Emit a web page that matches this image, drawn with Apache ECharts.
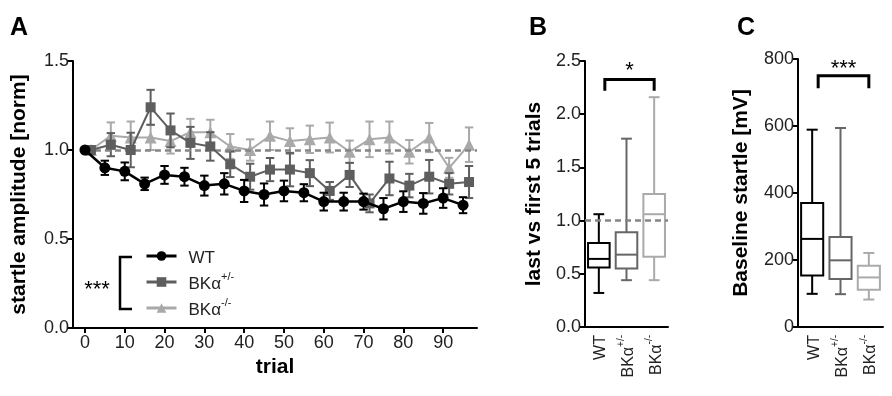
<!DOCTYPE html>
<html><head><meta charset="utf-8">
<script src="https://cdn.jsdelivr.net/npm/echarts@6/dist/echarts.min.js"></script>
<style>html,body{margin:0;padding:0;background:#fff}#c{width:892px;height:396px}</style>
</head><body><div id="c"></div>
<script>
// ---------- Panel A data ----------
const trialsWT = [0,5,10,15,20,25,30,35,40,45,50,55,60,65,70,75,80,85,90,95];
const trialsBK = [1.5,6.5,11.5,16.5,21.5,26.5,31.5,36.5,41.5,46.5,51.5,56.5,61.5,66.5,71.5,76.5,81.5,86.5,91.5,96.5];
const xTickValues = [0,10,20,30,40,50,60,70,80,90];
const wtMean = [1.00,0.90,0.88,0.81,0.86,0.85,0.80,0.81,0.77,0.75,0.77,0.76,0.71,0.71,0.71,0.67,0.71,0.70,0.73,0.69];
const wtSem  = [0,0.04,0.05,0.035,0.05,0.05,0.056,0.06,0.062,0.062,0.058,0.048,0.05,0.05,0.045,0.06,0.058,0.058,0.055,0.045];
const hetMean = [1.00,1.03,1.00,1.24,1.11,1.04,1.02,0.92,0.85,0.89,0.89,0.87,0.77,0.86,0.70,0.84,0.80,0.85,0.81,0.82];
const hetSem  = [0,0.065,0.097,0.098,0.095,0.09,0.08,0.072,0.073,0.065,0.094,0.073,0.05,0.068,0.05,0.094,0.066,0.094,0.06,0.09];
const koMean = [1.00,1.08,1.07,1.07,1.05,1.10,1.10,1.02,1.00,1.08,1.05,1.06,1.07,0.99,1.06,1.07,0.99,1.07,0.90,1.03];
const koSem  = [0,0.075,0.09,0.07,0.07,0.075,0.07,0.07,0.06,0.08,0.072,0.077,0.084,0.063,0.1,0.09,0.066,0.082,0.056,0.097];
const seriesNames = ['WT','BKα+/-','BKα-/-'];

// ---------- Panel B / C data : [min, q1, median, q3, max] ----------
const groups = ['WT','BKα+/-','BKα-/-'];
const ratioWT  = [0.32,0.56,0.64,0.79,1.06];
const ratioHet = [0.44,0.55,0.68,0.89,1.77];
const ratioKO  = [0.44,0.66,1.06,1.25,2.16];
const baseWT  = [99,154,263,370,589];
const baseHet = [98,143,199,269,594];
const baseKO  = [82,111,148,183,221];
const sigB = {from:0,to:2,top:2.325,leg:2.22,label:'*',labelY:2.41};
const sigC = {from:0,to:2,top:750,leg:713,label:'***',labelY:771};

// ---------- styles ----------
const FONT = "'Liberation Sans', Arial, Helvetica, sans-serif";
const colors = ['#000000','#5e5e5e','#a9a9a9'];
const boxColors = ['#000000','#666666','#aaaaaa'];
const tickColor = '#222';
const dashStyle = {type:[6,4], color:'#858585', width:2.5};

function errData(xs, m, s){ return xs.map((t,i)=>[t, m[i]-s[i], m[i]+s[i]]); }
function lineData(xs, m){ return xs.map((t,i)=>[t, m[i]]); }

function errRender(color){
  return function(params, api){
    const x = api.value(0), lo = api.value(1), hi = api.value(2);
    if (hi - lo < 1e-9) return null;
    const a = api.coord([x, lo]), b = api.coord([x, hi]);
    const cw = 4.2;
    const st = {stroke: color, lineWidth: 2};
    return {type:'group', children:[
      {type:'line', shape:{x1:a[0],y1:a[1],x2:b[0],y2:b[1]}, style:st},
      {type:'line', shape:{x1:a[0]-cw,y1:a[1],x2:a[0]+cw,y2:a[1]}, style:st},
      {type:'line', shape:{x1:b[0]-cw,y1:b[1],x2:b[0]+cw,y2:b[1]}, style:st}
    ]};
  };
}

function boxRender(params, api){
  const i = api.value(0);
  const xc = api.coord([i, 0])[0];
  const w = api.size([1, 0])[0] * 0.78;
  const cw = w * 0.5;
  const y = k => api.coord([i, api.value(k)])[1];
  const yMin = y(1), yQ1 = y(2), yMed = y(3), yQ3 = y(4), yMax = y(5);
  const col = boxColors[i];
  const st = {stroke: col, lineWidth: 2, fill: null};
  return {type:'group', children:[
    {type:'line', shape:{x1:xc,y1:yMax,x2:xc,y2:yQ3}, style:st},
    {type:'line', shape:{x1:xc,y1:yQ1,x2:xc,y2:yMin}, style:st},
    {type:'line', shape:{x1:xc-cw/2,y1:yMax,x2:xc+cw/2,y2:yMax}, style:st},
    {type:'line', shape:{x1:xc-cw/2,y1:yMin,x2:xc+cw/2,y2:yMin}, style:st},
    {type:'rect', shape:{x:xc-w/2,y:yQ3,width:w,height:yQ1-yQ3}, style:{stroke:col,lineWidth:2,fill:'#fff'}},
    {type:'line', shape:{x1:xc-w/2,y1:yMed,x2:xc+w/2,y2:yMed}, style:st}
  ]};
}

const richLegend = {
  b:{fontSize:17, fontFamily:FONT, color:'#222', lineHeight:22, verticalAlign:'bottom'},
  p:{fontSize:17, fontFamily:FONT, color:'#222', lineHeight:22, verticalAlign:'bottom', padding:[0,0,0,7]},
  s:{fontSize:11, fontFamily:FONT, color:'#222', lineHeight:22, verticalAlign:'top'}
};
function fmtName(name, first){
  if (name === 'WT') return '{' + first + '|WT}';
  return '{' + first + '|BKα}{s|' + name.slice(3) + '}';
}
const richAxis = {
  b:{fontSize:16, fontFamily:FONT, color:tickColor, lineHeight:20, verticalAlign:'bottom'},
  s:{fontSize:10, fontFamily:FONT, color:tickColor, lineHeight:20, verticalAlign:'top'}
};

const axisLineStyle = {color:'#000', width:2};
const nameStyle = {fontSize:21, fontWeight:'bold', color:'#000', fontFamily:FONT};
const labelStyle = {fontSize:18, color:tickColor, fontFamily:FONT};

const option = {
  animation:false,
  backgroundColor:'#fff',
  textStyle:{fontFamily:FONT},
  grid:[
    {left:73, top:61, width:404, height:267, outerBoundsMode:'none', containLabel:false},
    {left:585, top:61, width:83, height:266, outerBoundsMode:'none', containLabel:false},
    {left:798, top:59, width:85, height:268, outerBoundsMode:'none', containLabel:false}
  ],
  legend:{
    data: seriesNames,
    orient:'vertical', left:140, top:245,
    itemWidth:30, itemHeight:12, itemGap:4,
    lineStyle:{width:3},
    formatter: n => fmtName(n, 'p'),
    textStyle:{rich:richLegend, fontSize:17, color:'#222'},
    selectedMode:false
  },
  xAxis:[
    {gridIndex:0, type:'value', min:-3, max:98.5,
     axisLine:{show:true, onZero:false, lineStyle:axisLineStyle},
     axisTick:{show:true, length:5, lineStyle:axisLineStyle, customValues:xTickValues},
     axisLabel:{show:true, margin:6, customValues:xTickValues, ...labelStyle},
     splitLine:{show:false},
     name:'trial', nameLocation:'middle', nameGap:29, nameTextStyle:nameStyle},
    {gridIndex:1, type:'category', data:groups, boundaryGap:true,
     axisLine:{show:true, lineStyle:axisLineStyle}, axisTick:{show:false},
     axisLabel:{rotate:90, margin:8, interval:0, formatter:n=>fmtName(n,'b'), rich:richAxis}},
    {gridIndex:2, type:'category', data:groups, boundaryGap:true,
     axisLine:{show:true, lineStyle:axisLineStyle}, axisTick:{show:false},
     axisLabel:{rotate:90, margin:8, interval:0, formatter:n=>fmtName(n,'b'), rich:richAxis}}
  ],
  yAxis:[
    {gridIndex:0, type:'value', min:0, max:1.5, interval:0.5,
     axisLine:{show:true, onZero:false, lineStyle:axisLineStyle},
     axisTick:{show:true, length:5, lineStyle:axisLineStyle},
     axisLabel:{margin:4, formatter:v=>v.toFixed(1), ...labelStyle},
     splitLine:{show:false},
     name:'startle amplitude [norm]', nameLocation:'middle', nameGap:43, nameTextStyle:nameStyle},
    {gridIndex:1, type:'value', min:0, max:2.5, interval:0.5,
     axisLine:{show:true, onZero:false, lineStyle:axisLineStyle},
     axisTick:{show:true, length:5, lineStyle:axisLineStyle},
     axisLabel:{margin:4, formatter:v=>v.toFixed(1), ...labelStyle},
     splitLine:{show:false},
     name:'last vs first 5 trials', nameLocation:'middle', nameGap:40, nameTextStyle:nameStyle},
    {gridIndex:2, type:'value', min:0, max:800, interval:200,
     axisLine:{show:true, onZero:false, lineStyle:axisLineStyle},
     axisTick:{show:true, length:5, lineStyle:axisLineStyle},
     axisLabel:{margin:4, ...labelStyle},
     splitLine:{show:false},
     name:'Baseline startle [mV]', nameLocation:'middle', nameGap:46, nameTextStyle:nameStyle}
  ],
  series:[
    // error bars
    {type:'custom', name:'errKO', xAxisIndex:0, yAxisIndex:0, z:2, renderItem:errRender(colors[2]), encode:{x:0,y:[1,2]}, data:errData(trialsBK, koMean, koSem)},
    {type:'custom', name:'errHet', xAxisIndex:0, yAxisIndex:0, z:4, renderItem:errRender(colors[1]), encode:{x:0,y:[1,2]}, data:errData(trialsBK, hetMean, hetSem)},
    {type:'custom', name:'errWT', xAxisIndex:0, yAxisIndex:0, z:6, renderItem:errRender(colors[0]), encode:{x:0,y:[1,2]}, data:errData(trialsWT, wtMean, wtSem)},
    {type:'line', name:seriesNames[2], xAxisIndex:0, yAxisIndex:0, z:3, data:lineData(trialsBK, koMean),
     symbol:'triangle', symbolSize:12, color:colors[2], lineStyle:{width:2, color:colors[2]}, itemStyle:{color:colors[2]},
     markLine:{silent:true, symbol:'none', label:{show:false}, lineStyle:dashStyle,
       data:[[{coord:[trialsWT[0],1]},{coord:[98.5,1]}]]}},
    {type:'line', name:seriesNames[1], xAxisIndex:0, yAxisIndex:0, z:5, data:lineData(trialsBK, hetMean),
     symbol:'rect', symbolSize:10, color:colors[1], lineStyle:{width:2, color:colors[1]}, itemStyle:{color:colors[1]}},
    {type:'line', name:seriesNames[0], xAxisIndex:0, yAxisIndex:0, z:7, data:lineData(trialsWT, wtMean),
     symbol:'circle', symbolSize:11, color:colors[0], lineStyle:{width:2.5, color:colors[0]}, itemStyle:{color:colors[0]}},
    // panel B
    {type:'custom', name:'ratio', xAxisIndex:1, yAxisIndex:1, renderItem:boxRender, encode:{x:0,y:[1,2,3,4,5]},
     data:[[0,...ratioWT],[1,...ratioHet],[2,...ratioKO]],
     markLine:{silent:true, symbol:'none', label:{show:false}, lineStyle:dashStyle, data:[{yAxis:1}]}},
    // panel C
    {type:'custom', name:'baseline', xAxisIndex:2, yAxisIndex:2, renderItem:boxRender, encode:{x:0,y:[1,2,3,4,5]},
     data:[[0,...baseWT],[1,...baseHet],[2,...baseKO]]}
  ]
};

const chart = echarts.init(document.getElementById('c'), null, {renderer:'canvas'});
chart.setOption(option);

function bracket(g, sig){
  const l = chart.convertToPixel({gridIndex:g}, [sig.from, sig.top]);
  const r = chart.convertToPixel({gridIndex:g}, [sig.to, sig.top]);
  const lg = chart.convertToPixel({gridIndex:g}, [sig.from, sig.leg]);
  const t = chart.convertToPixel({gridIndex:g}, [sig.from, sig.labelY]);
  const x1 = l[0] + 6, x2 = r[0];
  return [
    {type:'polyline', shape:{points:[[x1,lg[1]],[x1,l[1]],[x2,l[1]],[x2,lg[1]]]}, style:{stroke:'#000', lineWidth:3, fill:null}},
    {type:'text', x:(x1+x2)/2, y:t[1], style:{text:sig.label, fontSize:22, fontFamily:FONT, fill:'#000', align:'center', verticalAlign:'middle'}}
  ];
}

const letterStyle = {fontSize:25, fontWeight:'bold', fontFamily:FONT, fill:'#000', verticalAlign:'middle'};
chart.setOption({graphic:[
  {type:'text', x:10, y:28, style:{text:'A', ...letterStyle}},
  {type:'text', x:529, y:28, style:{text:'B', ...letterStyle}},
  {type:'text', x:737, y:28, style:{text:'C', ...letterStyle}},
  {type:'polyline', shape:{points:[[132,257],[120,257],[120,309],[132,309]]}, style:{stroke:'#000', lineWidth:2.5, fill:null}},
  {type:'text', x:97, y:290, style:{text:'***', fontSize:22, fontFamily:FONT, fill:'#000', align:'center', verticalAlign:'middle'}},
  ...bracket(1, sigB),
  ...bracket(2, sigC)
]});
</script>
</body></html>
